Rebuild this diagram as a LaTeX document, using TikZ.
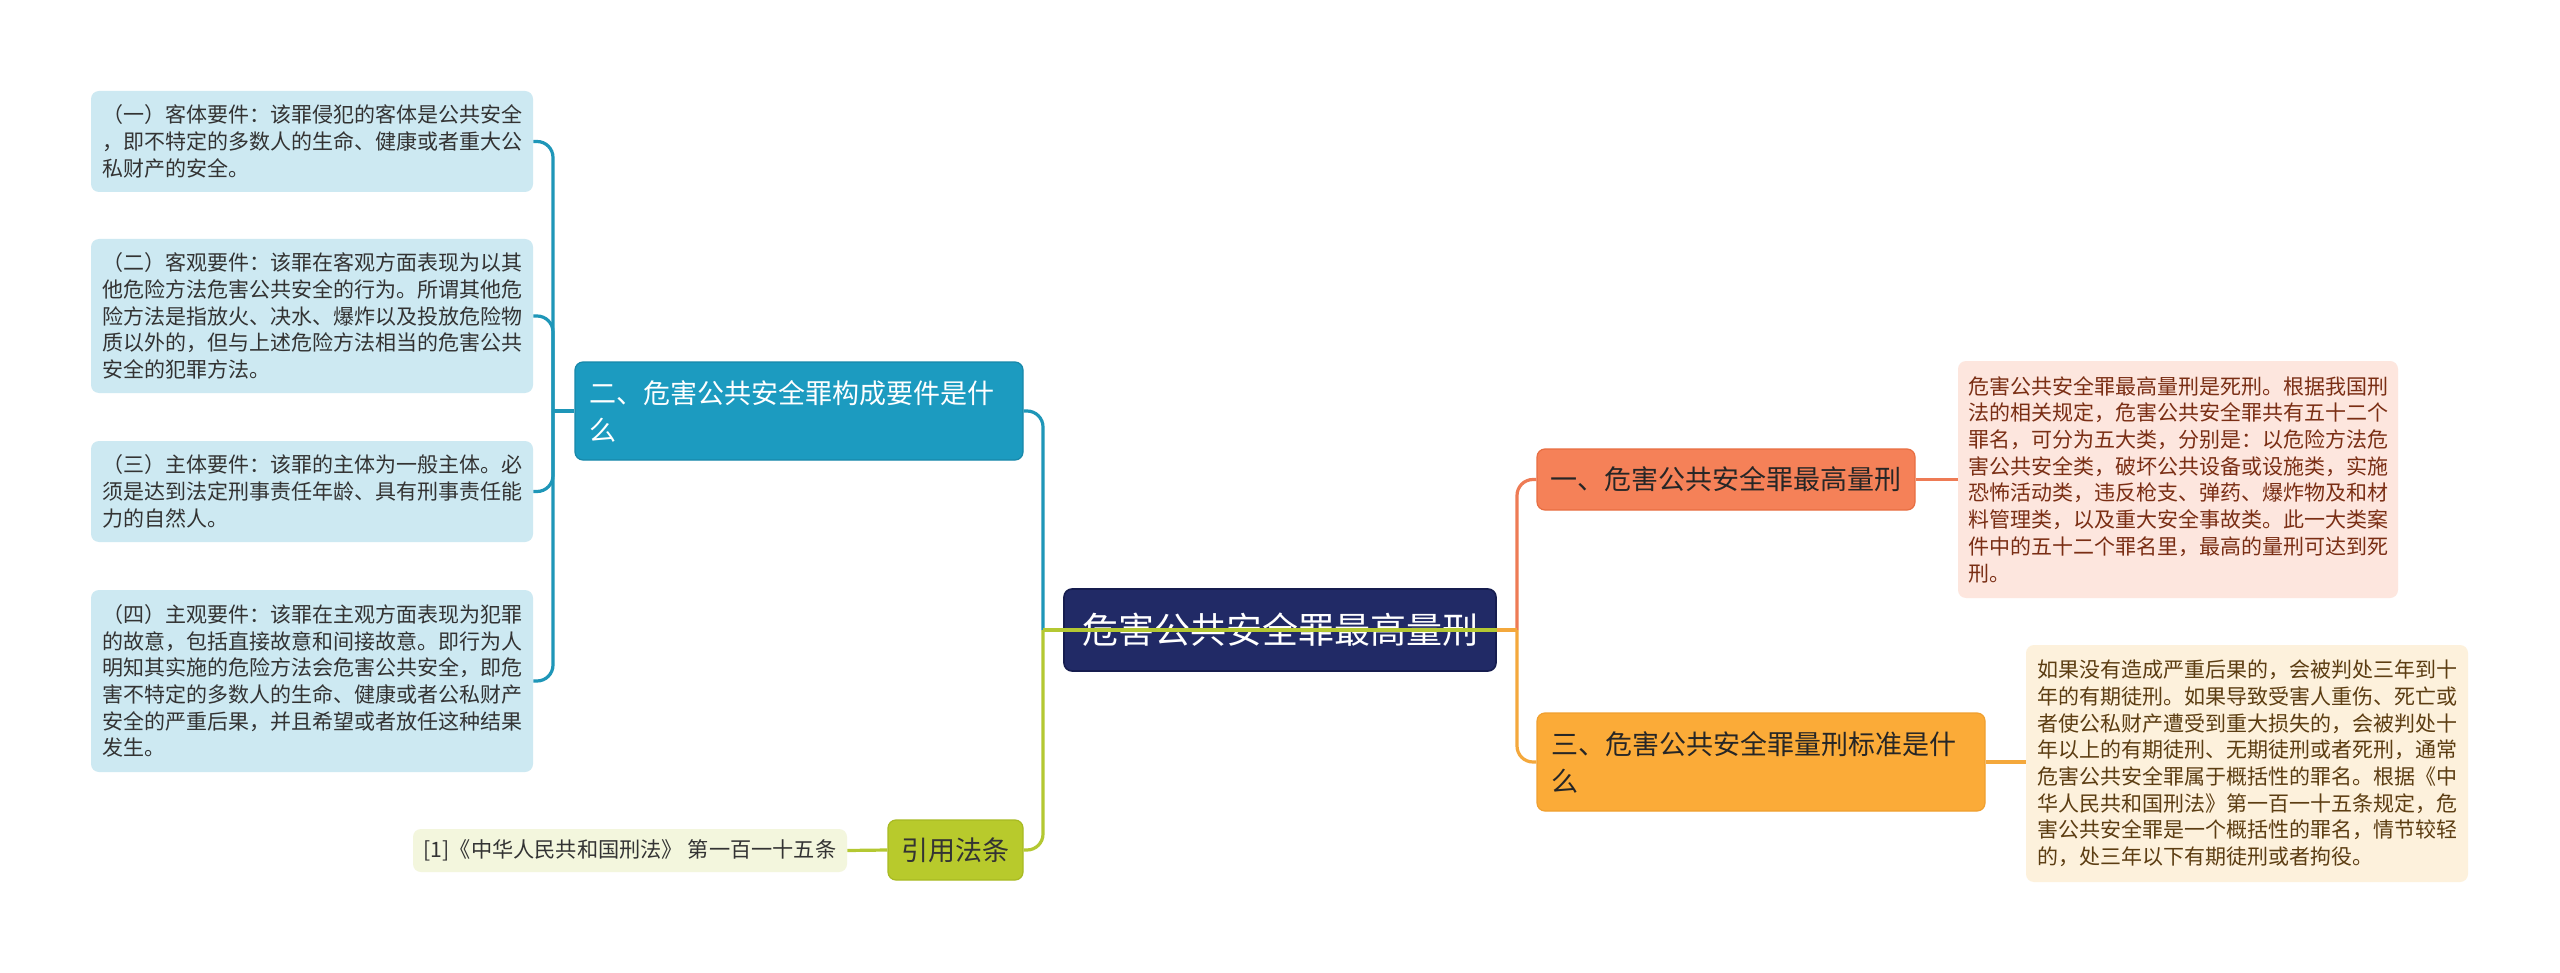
\documentclass[tikz,border=0pt]{standalone}
\usepackage{fontspec}
\setmainfont{Noto Sans CJK SC}
\usetikzlibrary{calc}
\definecolor{tealnode}{HTML}{1C9BC0}
\definecolor{tealborder}{HTML}{1788AA}
\definecolor{tealline}{HTML}{1E96B8}
\definecolor{leafblue}{HTML}{CDE9F2}
\definecolor{navy}{HTML}{212A66}
\definecolor{navyborder}{HTML}{161D4F}
\definecolor{coralnode}{HTML}{F58158}
\definecolor{coralborder}{HTML}{E86E42}
\definecolor{coralline}{HTML}{EE7B55}
\definecolor{leafpink}{HTML}{FDE6DE}
\definecolor{pinktext}{HTML}{7A2E14}
\definecolor{yellownode}{HTML}{FBAB38}
\definecolor{yellowborder}{HTML}{F0A030}
\definecolor{yellowline}{HTML}{F4A83C}
\definecolor{leafcream}{HTML}{FDF1DC}
\definecolor{creamtext}{HTML}{5C3D12}
\definecolor{olivenode}{HTML}{B8CA2C}
\definecolor{oliveborder}{HTML}{A8BA22}
\definecolor{oliveline}{HTML}{B4C832}
\definecolor{leafolive}{HTML}{F3F6DD}
\definecolor{textdark}{HTML}{333333}
\begin{document}
\begin{tikzpicture}[x=0.5pt,y=-0.5pt,
  box/.style={rounded corners=4pt, inner sep=0pt, anchor=center},
  leaffont/.style={font=\fontsize{10.5}{13.35}\selectfont},
  leafL/.style={box, leaffont, fill=leafblue, text=textdark, align=left, minimum width=221pt},
  branchfont/.style={font=\fontsize{13.5}{18.5}\selectfont},
  link/.style={line width=1.6pt, rounded corners=8pt},
]
\useasboundingbox (0,0) rectangle (2560,973);
\fill[white] (0,0) rectangle (2560,973);

% left leaves
\node[leafL, minimum height=50.5pt] (L1) at (312,141.5) {（一）客体要件：该罪侵犯的客体是公共安全\\，即不特定的多数人的生命、健康或者重大公\\私财产的安全。};
\node[leafL, minimum height=77pt] (L2) at (312,316) {（二）客观要件：该罪在客观方面表现为以其\\他危险方法危害公共安全的行为。所谓其他危\\险方法是指放火、决水、爆炸以及投放危险物\\质以外的，但与上述危险方法相当的危害公共\\安全的犯罪方法。};
\node[leafL, minimum height=50.5pt] (L3) at (312,491.5) {（三）主体要件：该罪的主体为一般主体。必\\须是达到法定刑事责任年龄、具有刑事责任能\\力的自然人。};
\node[leafL, minimum height=91pt] (L4) at (312,681) {（四）主观要件：该罪在主观方面表现为犯罪\\的故意，包括直接故意和间接故意。即行为人\\明知其实施的危险方法会危害公共安全，即危\\害不特定的多数人的生命、健康或者公私财产\\安全的严重后果，并且希望或者放任这种结果\\发生。};

% branch 二
\node[box, branchfont, fill=tealnode, draw=tealborder, line width=0.6pt, text=white, align=left, text width=210pt, minimum width=224pt, minimum height=49pt] (B2) at (799,411) {二、危害公共安全罪构成要件是什\\么};

% root
\node[box, font=\fontsize{18}{22}\selectfont, fill=navy, draw=navyborder, line width=0.8pt, text=white, minimum width=216pt, minimum height=41pt] (root) at (1280,630) {危害公共安全罪最高量刑};

% branch 一
\node[box, branchfont, fill=coralnode, draw=coralborder, line width=0.6pt, text=black!85, minimum width=189pt, minimum height=30.5pt] (B1) at (1726,479.5) {一、危害公共安全罪最高量刑};
\node[box, leaffont, fill=leafpink, text=pinktext, align=left, minimum width=220pt, minimum height=118.5pt] (R1) at (2178,479.5) {危害公共安全罪最高量刑是死刑。根据我国刑\\法的相关规定，危害公共安全罪共有五十二个\\罪名，可分为五大类，分别是：以危险方法危\\害公共安全类，破坏公共设备或设施类，实施\\恐怖活动类，违反枪支、弹药、爆炸物及和材\\料管理类，以及重大安全事故类。此一大类案\\件中的五十二个罪名里，最高的量刑可达到死\\刑。};

% branch 三
\node[box, branchfont, fill=yellownode, draw=yellowborder, line width=0.6pt, text=black!85, align=left, text width=210pt, minimum width=224pt, minimum height=49pt] (B3) at (1761,762) {三、危害公共安全罪量刑标准是什\\么};
\node[box, leaffont, fill=leafcream, text=creamtext, align=left, minimum width=221pt, minimum height=118.5pt] (R3) at (2247,763.5) {如果没有造成严重后果的，会被判处三年到十\\年的有期徒刑。如果导致受害人重伤、死亡或\\者使公私财产遭受到重大损失的，会被判处十\\年以上的有期徒刑、无期徒刑或者死刑，通常\\危害公共安全罪属于概括性的罪名。根据《中\\华人民共和国刑法》第一百一十五条规定，危\\害公共安全罪是一个概括性的罪名，情节较轻\\的，处三年以下有期徒刑或者拘役。};

% 引用法条
\node[box, branchfont, fill=olivenode, draw=oliveborder, line width=0.6pt, text=textdark, minimum width=67.5pt, minimum height=30pt] (Ref) at (955.5,850) {引用法条};
\node[box, font=\fontsize{10.6}{12.5}\selectfont, fill=leafolive, text=textdark, minimum width=217pt, minimum height=21.5pt] (RefLeaf) at (630,850.5) {[1]《中华人民共和国刑法》 第一百一十五条};

% junctions
\coordinate (jL) at (553,411);
\coordinate (jC) at (1043,630);
\coordinate (jR) at (1517,630);

% connectors left
\draw[link, tealline] (B2.west) -- (jL);
\foreach \n in {L1,L2,L3,L4} \draw[link, tealline] (jL) |- (\n.east);
\draw[link, tealline] (B2.east) -| (jC);
\draw[link, oliveline] (Ref.east) -| (jC);
\draw[link, oliveline] (jC) -- (root.east);
\draw[link, oliveline] (Ref.west) -- (RefLeaf.east);

% connectors right
\draw[link, coralline] (jR) |- (B1.west);
\draw[link, yellowline] (jR) |- (B3.west);
\draw[link, yellowline] (root.east) -- (jR);
\draw[link, coralline] (B1.east) -- (R1.west);
\draw[link, yellowline] (B3.east) -- (B3.east -| R3.west);
\end{tikzpicture}
\end{document}
